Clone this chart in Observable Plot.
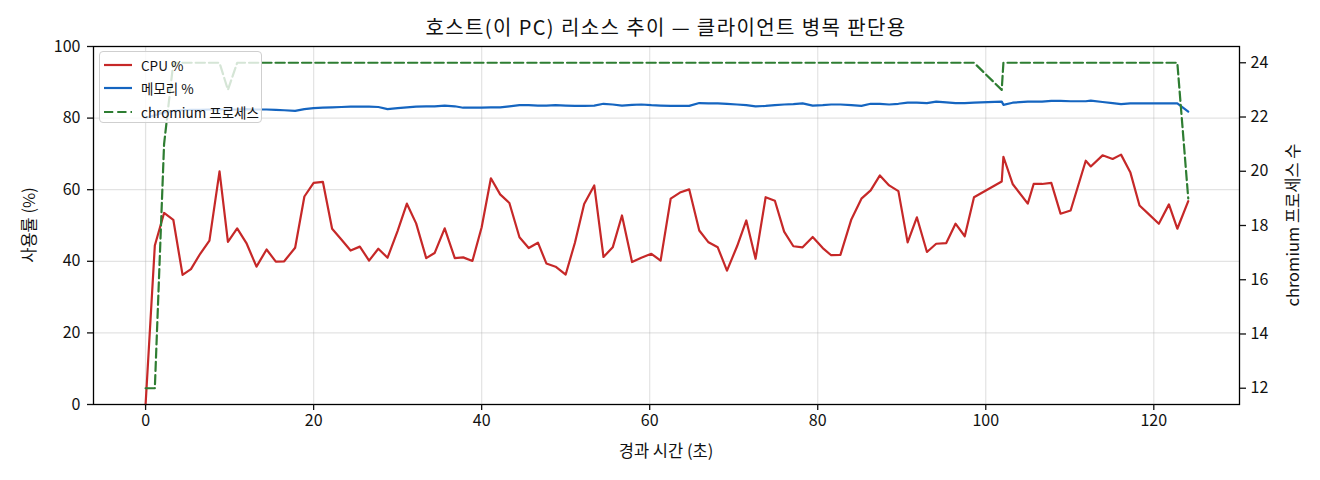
<!DOCTYPE html>
<html>
<head>
<meta charset="utf-8">
<script src="https://cdn.jsdelivr.net/npm/d3@7"></script>
<script src="https://cdn.jsdelivr.net/npm/@observablehq/plot@0.6"></script>
<style>
  html, body { margin: 0; padding: 0; background: #fff; }
  body { font-family: "Noto Sans CJK KR", "Noto Sans", sans-serif; color: #111; }
  #wrap { position: relative; width: 1320px; height: 480px; overflow: hidden; }
  #title { position: absolute; left: 93px; width: 1146px; top: 14px; text-align: center; font-size: 20px; line-height: 26px; letter-spacing: 1.4px; }
  #chart { position: absolute; left: 0; top: 36px; }
  .ylab { position: absolute; font-size: 16.5px; line-height: 20px; white-space: nowrap; transform: translate(-50%, -50%) rotate(-90deg); }
  #xlab { position: absolute; left: 666px; top: 450px; transform: translate(-50%, -50%); font-size: 16.5px; white-space: nowrap; }
  #legend { position: absolute; left: 99px; top: 51px; width: 163px; height: 72px; box-sizing: border-box;
            border: 1px solid #cfcfcf; border-radius: 4px; background: rgba(255,255,255,0.8); font-size: 13.5px; }
  .lrow { position: absolute; left: 4px; height: 20px; display: flex; align-items: center; white-space: nowrap; }
  .lrow svg { margin-right: 9px; }
</style>
</head>
<body>
<div id="wrap">
  <div id="title">호스트(이 PC) 리소스 추이 — 클라이언트 병목 판단용</div>
  <div id="chart"></div>
  <div class="ylab" style="left:28px; top:225px;">사용률 (%)</div>
  <div class="ylab" style="left:1292px; top:225px;">chromium 프로세스 수</div>
  <div id="xlab">경과 시간 (초)</div>
  <div id="legend"></div>
</div>
<script>
// ---- data ----
const time = [
  0, 1.1, 2.2, 3.3, 4.4, 5.4, 6.5, 7.6, 8.8, 9.8,
  10.9, 12.0, 13.2, 14.4, 15.5, 16.5, 17.8, 18.9, 20.0, 21.1,
  22.2, 23.3, 24.4, 25.5, 26.6, 27.7, 28.8, 30.0, 31.1, 32.2,
  33.4, 34.4, 35.6, 36.8, 37.8, 38.9, 40.0, 41.1, 42.2, 43.3,
  44.5, 45.6, 46.7, 47.7, 48.8, 50.0, 51.1, 52.2, 53.4, 54.5,
  55.6, 56.7, 57.9, 59.0, 60.2, 61.3, 62.5, 63.6, 64.7, 65.9,
  67.0, 68.1, 69.2, 70.4, 71.5, 72.6, 73.8, 74.9, 76.0, 77.1,
  78.2, 79.4, 80.6, 81.6, 82.7, 84.0, 85.2, 86.3, 87.4, 88.5,
  89.6, 90.7, 91.8, 93.0, 94.1, 95.3, 96.4, 97.5, 98.6, 101.9,
  102.1, 103.2, 105.0, 105.7, 106.7, 107.8, 108.9, 110.1, 111.9, 112.5,
  113.9, 115.1, 116.1, 117.2, 118.3, 119.3, 120.6, 121.8, 122.8, 124.1
];
const cpu = [
  0, 44.4, 53.5, 51.6, 36.2, 37.8, 42.1, 45.8, 65.1, 45.4,
  49.2, 45.1, 38.5, 43.3, 39.9, 40.0, 43.8, 58.1, 61.9, 62.2,
  49.1, 46.1, 43.0, 44.1, 40.2, 43.5, 41.0, 48.5, 56.1, 50.6,
  40.9, 42.3, 49.2, 40.9, 41.1, 40.1, 49.5, 63.2, 58.7, 56.3,
  46.7, 43.7, 45.2, 39.4, 38.5, 36.3, 45.2, 56.0, 61.2, 41.2,
  43.9, 52.8, 39.8, 41.0, 42.1, 40.2, 57.5, 59.2, 60.1, 48.6,
  45.3, 43.9, 37.4, 44.2, 51.4, 40.7, 57.9, 56.9, 48.3, 44.2,
  43.9, 46.8, 43.7, 41.7, 41.8, 51.7, 57.5, 59.8, 64.0, 61.2,
  59.6, 45.3, 52.3, 42.6, 44.9, 45.1, 50.5, 47.0, 57.9, 62.3,
  69.2, 61.6, 56.1, 61.6, 61.6, 61.9, 53.3, 54.2, 68.1, 66.5,
  69.6, 68.6, 69.8, 64.9, 55.6, 53.4, 50.5, 55.9, 49.1, 56.8
];
const mem = [
  80.1, 80.8, 81.6, 82.0, 82.2, 82.3, 82.3, 82.4, 82.4, 82.4,
  82.4, 82.5, 82.4, 82.4, 82.3, 82.2, 82.0, 82.5, 82.8, 82.9,
  83.0, 83.1, 83.2, 83.2, 83.2, 83.1, 82.5, 82.8, 83.0, 83.2,
  83.3, 83.3, 83.5, 83.3, 82.9, 82.9, 82.9, 83.0, 83.0, 83.3,
  83.6, 83.6, 83.5, 83.5, 83.6, 83.5, 83.4, 83.4, 83.5, 84.0,
  83.8, 83.5, 83.7, 83.8, 83.6, 83.5, 83.4, 83.4, 83.4, 84.2,
  84.1, 84.1, 84.0, 83.8, 83.6, 83.3, 83.4, 83.6, 83.8, 83.9,
  84.1, 83.5, 83.6, 83.8, 83.8, 83.6, 83.4, 84.0, 84.0, 83.8,
  84.0, 84.3, 84.3, 84.2, 84.6, 84.4, 84.2, 84.2, 84.3, 84.6,
  83.7, 84.3, 84.6, 84.6, 84.6, 84.8, 84.8, 84.7, 84.7, 84.9,
  84.5, 84.2, 83.9, 84.1, 84.1, 84.1, 84.1, 84.1, 84.1, 81.8
];
const proc = [
  12, 12, 21, 24, 24, 24, 24, 24, 24, 23,
  24, 24, 24, 24, 24, 24, 24, 24, 24, 24,
  24, 24, 24, 24, 24, 24, 24, 24, 24, 24,
  24, 24, 24, 24, 24, 24, 24, 24, 24, 24,
  24, 24, 24, 24, 24, 24, 24, 24, 24, 24,
  24, 24, 24, 24, 24, 24, 24, 24, 24, 24,
  24, 24, 24, 24, 24, 24, 24, 24, 24, 24,
  24, 24, 24, 24, 24, 24, 24, 24, 24, 24,
  24, 24, 24, 24, 24, 24, 24, 24, 24, 23,
  24, 24, 24, 24, 24, 24, 24, 24, 24, 24,
  24, 24, 24, 24, 24, 24, 24, 24, 24, 19
];
const xTicks = [0, 20, 40, 60, 80, 100, 120];
const yTicks = [0, 20, 40, 60, 80, 100];
const procTicks = [12, 14, 16, 18, 20, 22, 24];
const xDomain = [-6.2, 130.2];
const yDomain = [0, 100];
const procDomain = [11.4, 24.6];
const seriesNames = ["CPU %", "메모리 %", "chromium 프로세스"];
const seriesColors = ["#c62828", "#1565c0", "#2e7d32"];

// ---- twin-axis mapping: process count -> left (0..100) scale ----
const toLeft = v => (v - procDomain[0]) / (procDomain[1] - procDomain[0]) * (yDomain[1] - yDomain[0]) + yDomain[0];
const fromLeft = y => procDomain[0] + (y - yDomain[0]) / (yDomain[1] - yDomain[0]) * (procDomain[1] - procDomain[0]);

const rows = time.map((t, i) => ({ t, cpu: cpu[i], mem: mem[i], proc: proc[i] }));
const DASH = "9.25,4";

const chart = Plot.plot({
  width: 1320,
  height: 444,
  marginTop: 10,
  marginBottom: 76,
  marginLeft: 93,
  marginRight: 81,
  style: { fontFamily: "'Noto Sans CJK KR', 'Noto Sans', sans-serif", fontSize: "16px", color: "#111", background: "transparent", overflow: "visible" },
  x: { domain: xDomain },
  y: { domain: yDomain },
  marks: [
    Plot.gridX(xTicks, { stroke: "#b0b0b0", strokeOpacity: 0.35, strokeWidth: 1.2 }),
    Plot.gridY(yTicks, { stroke: "#b0b0b0", strokeOpacity: 0.35, strokeWidth: 1.2 }),
    Plot.line(rows, { x: "t", y: "cpu", stroke: seriesColors[0], strokeWidth: 2.2 }),
    Plot.line(rows, { x: "t", y: "mem", stroke: seriesColors[1], strokeWidth: 2.2 }),
    Plot.line(rows, { x: "t", y: d => toLeft(d.proc), stroke: seriesColors[2], strokeWidth: 2.2, strokeDasharray: DASH }),
    Plot.frame({ stroke: "#000", strokeWidth: 1.3 }),
    Plot.axisX(xTicks, { tickSize: 6, tickPadding: 4, label: null, fontSize: 16, strokeWidth: 1.3 }),
    Plot.axisY(yTicks, { anchor: "left", tickSize: 6, tickPadding: 7, label: null, fontSize: 16, strokeWidth: 1.3 }),
    Plot.axisY(procTicks.map(toLeft), { anchor: "right", tickSize: 6, tickPadding: 5, label: null, fontSize: 16, strokeWidth: 1.3,
      tickFormat: d => String(Math.round(fromLeft(d))) })
  ]
});
document.getElementById("chart").appendChild(chart);

// ---- legend ----
const legend = document.getElementById("legend");
seriesNames.forEach((name, i) => {
  const row = document.createElement("div");
  row.className = "lrow";
  row.style.top = (3 + i * 23.3) + "px";
  const dash = i === 2 ? ` stroke-dasharray="${DASH}"` : "";
  row.innerHTML = `<svg width="28" height="6"><line x1="0" y1="3" x2="28" y2="3" stroke="${seriesColors[i]}" stroke-width="2.2"${dash}/></svg><span>${name}</span>`;
  legend.appendChild(row);
});
</script>
</body>
</html>
